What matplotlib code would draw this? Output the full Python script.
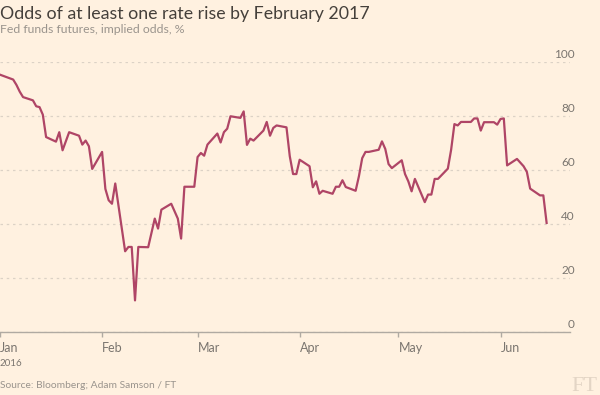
import matplotlib
matplotlib.use("Agg")
import matplotlib.pyplot as plt
import matplotlib.dates as mdates
import matplotlib.transforms as mtransforms
import pandas as pd

# ---------------- data ----------------
dates = [
    "2016-01-01", "2016-01-05", "2016-01-06", "2016-01-07", "2016-01-08",
    "2016-01-11", "2016-01-12", "2016-01-13", "2016-01-14", "2016-01-15",
    "2016-01-18", "2016-01-19", "2016-01-20", "2016-01-22",
    "2016-01-25", "2016-01-26", "2016-01-27", "2016-01-28", "2016-01-29",
    "2016-02-01", "2016-02-02", "2016-02-03", "2016-02-04", "2016-02-05",
    "2016-02-08", "2016-02-09", "2016-02-10", "2016-02-11", "2016-02-12",
    "2016-02-15", "2016-02-17", "2016-02-18", "2016-02-19",
    "2016-02-22", "2016-02-24", "2016-02-25", "2016-02-26",
    "2016-02-29", "2016-03-01", "2016-03-02", "2016-03-03", "2016-03-04",
    "2016-03-07", "2016-03-08", "2016-03-09", "2016-03-10", "2016-03-11",
    "2016-03-14", "2016-03-15", "2016-03-16", "2016-03-17", "2016-03-18",
    "2016-03-21", "2016-03-22", "2016-03-23", "2016-03-24", "2016-03-25",
    "2016-03-28", "2016-03-29", "2016-03-30", "2016-03-31", "2016-04-01",
    "2016-04-04", "2016-04-05", "2016-04-06", "2016-04-07", "2016-04-08",
    "2016-04-11", "2016-04-12", "2016-04-13", "2016-04-14", "2016-04-15",
    "2016-04-18", "2016-04-19", "2016-04-20", "2016-04-21", "2016-04-22",
    "2016-04-25", "2016-04-26", "2016-04-27", "2016-04-28", "2016-04-29",
    "2016-05-02", "2016-05-03", "2016-05-04", "2016-05-05", "2016-05-06",
    "2016-05-09", "2016-05-10", "2016-05-11", "2016-05-12", "2016-05-13",
    "2016-05-16", "2016-05-17", "2016-05-18", "2016-05-19", "2016-05-20",
    "2016-05-23", "2016-05-24", "2016-05-25", "2016-05-26", "2016-05-27",
    "2016-05-30", "2016-05-31", "2016-06-01", "2016-06-02", "2016-06-03",
    "2016-06-06", "2016-06-08", "2016-06-09", "2016-06-10",
    "2016-06-13", "2016-06-14", "2016-06-15",
]
odds = [
    95.3, 93.5, 91.5, 89.0, 87.0,
    85.8, 83.6, 83.3, 80.5, 72.2,
    70.5, 74.0, 67.3, 74.0,
    72.7, 69.4, 70.9, 68.8, 60.4,
    66.7, 53.0, 48.8, 47.5, 55.0,
    29.9, 31.5, 31.5, 11.7, 31.5,
    31.4, 42.0, 38.3, 45.3,
    47.5, 42.0, 34.6, 53.8,
    53.8, 64.8, 66.3, 65.3, 69.4,
    73.5, 70.2, 74.0, 75.3, 79.9,
    79.3, 81.7, 69.3, 71.6, 70.9,
    74.6, 77.8, 72.7, 75.6, 76.5,
    75.8, 65.1, 58.5, 58.5, 63.8,
    61.4, 53.6, 55.8, 51.2, 52.3,
    51.2, 53.8, 53.8, 56.2, 53.7,
    52.3, 57.7, 64.4, 66.7, 66.7,
    67.5, 70.6, 67.8, 62.2, 60.7,
    63.6, 58.5, 55.8, 52.1, 56.7,
    48.1, 50.9, 50.9, 56.7, 56.7,
    60.5, 67.5, 77.0, 76.5, 77.8,
    77.8, 79.1, 79.1, 74.6, 77.7,
    77.7, 76.8, 78.9, 79.1, 61.7,
    64.1, 61.4, 59.3, 53.1,
    50.6, 50.6, 40.4,
]
y_ticks = [0, 20, 40, 60, 80, 100]
x_start = "2016-01-01"
x_span_days = 173.1
year_label = "2016"

title = "Odds of at least one rate rise by February 2017"
subtitle = "Fed funds futures, implied odds, %"
source = "Source: Bloomberg; Adam Samson / FT"
logo = "FT"

# ---------------- style ----------------
BG = "#fff1e0"
LINE = "#af4566"
GRID = "#dcd2c6"
AXIS = "#b0aaa2"
TICKTXT = "#7a756f"
TITLE_C = "#45403b"
SUB_C = "#9a948d"
LOGO_C = "#e3d5c5"
FONT = ["Lato", "DejaVu Sans"]

plt.rcParams["font.family"] = FONT

W, H = 600, 395
fig = plt.figure(figsize=(W / 100, H / 100), dpi=100, facecolor=BG)
ax = fig.add_axes([0, 1 - 332 / H, 570 / W, (332 - 62) / H])
ax.set_facecolor(BG)

x = pd.to_datetime(dates)
ax.plot(x, odds, color=LINE, lw=1.6, solid_joinstyle="round", zorder=3)

t0 = pd.Timestamp(x_start)
ax.set_xlim(t0, t0 + pd.Timedelta(days=x_span_days))
ax.set_ylim(0, 100)

for s in ["top", "left", "right"]:
    ax.spines[s].set_visible(False)
ax.spines["bottom"].set_color(AXIS)
ax.spines["bottom"].set_linewidth(1.0)
ax.spines["bottom"].set_zorder(4)

ax.set_yticks(y_ticks)
ax.set_yticklabels([str(v) for v in y_ticks])
ax.yaxis.grid(True, linestyle=(0, (2, 3)), color=GRID, linewidth=0.9, zorder=0)
ax.set_axisbelow(True)
ax.tick_params(axis="y", left=False, labelleft=False, right=False,
               labelright=True, pad=0, labelsize=8.5, labelcolor=TICKTXT)

ax.xaxis.set_major_locator(mdates.MonthLocator())
ax.xaxis.set_major_formatter(mdates.DateFormatter("%b"))
ax.tick_params(axis="x", direction="out", length=3.5, width=1.0, color=AXIS,
               pad=3.5, labelsize=9, labelcolor=TICKTXT)
for lab in ax.get_xticklabels():
    lab.set_ha("left")

offset = mtransforms.ScaledTranslation(0, 4 / 100, fig.dpi_scale_trans)
for tk in ax.yaxis.get_major_ticks():
    tk.label2.set_ha("right")
    tk.label2.set_va("baseline")
    tk.label2.set_transform(tk.label2.get_transform() + offset)

# texts
t_title = fig.text(0, 1 - 18.5 / H, title, ha="left", va="baseline",
                   fontsize=13, color=TITLE_C, fontweight="normal")
t_sub = fig.text(0, 1 - 33 / H, subtitle, ha="left", va="baseline",
                 fontsize=8.5, color=SUB_C, fontweight="normal")
t_src = fig.text(0, 1 - 387.5 / H, source, ha="left", va="baseline",
                 fontsize=8.5, color=SUB_C, fontweight="normal")
fig.text(0, 1 - 366 / H, year_label, ha="left", va="baseline",
         fontsize=7, color=TICKTXT)
fig.text(597 / W, 1 - 391 / H, logo, ha="right", va="baseline",
         fontsize=16, color=LOGO_C, family=["Liberation Serif", "DejaVu Serif"])

fig.canvas.draw()
r = fig.canvas.get_renderer()
for t, target in [(t_title, 369), (t_sub, 185), (t_src, 177)]:
    w = t.get_window_extent(r).width
    t.set_fontsize(t.get_fontsize() * target / w)

fig.savefig("out.png", dpi=100, facecolor=BG)
